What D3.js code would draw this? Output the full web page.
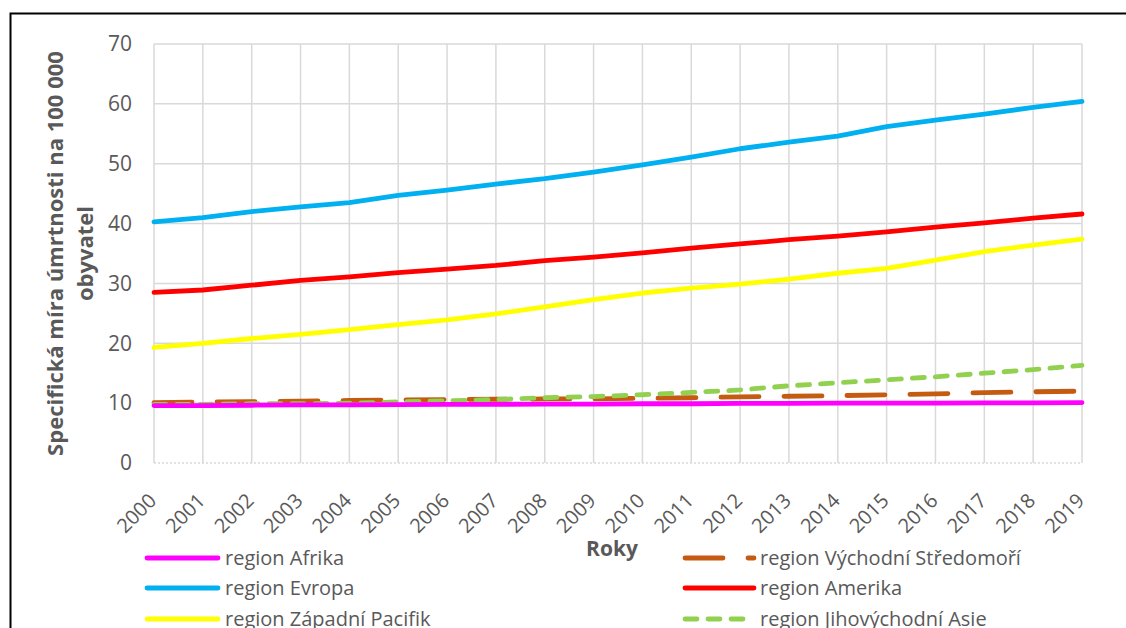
<!DOCTYPE html>
<html>
<head>
<meta charset="utf-8">
<script src="https://cdn.jsdelivr.net/npm/d3@7"></script>
<style>
  body { margin: 0; background: #fff; }
  svg text { font-family: 'Open Sans', sans-serif; fill: #595959; }
</style>
</head>
<body>
<svg id="chart" width="1126" height="628"></svg>
<script>
const years = d3.range(2000, 2020)

const afrika = [9.6, 9.6, 9.65, 9.7, 9.7, 9.75, 9.8, 9.8, 9.85, 9.85, 9.9, 9.9, 9.95, 9.95, 10.0, 10.0, 10.0, 10.05, 10.05, 10.1]
const evropa = [40.3, 41.0, 42.0, 42.8, 43.5, 44.7, 45.6, 46.6, 47.5, 48.6, 49.8, 51.1, 52.5, 53.6, 54.6, 56.2, 57.3, 58.3, 59.4, 60.4]
const zapPacifik = [19.3, 20.0, 20.8, 21.5, 22.3, 23.1, 23.9, 24.9, 26.1, 27.3, 28.4, 29.2, 29.9, 30.7, 31.7, 32.5, 33.9, 35.3, 36.4, 37.4]
const vychStredomori = [10.1, 10.2, 10.25, 10.35, 10.45, 10.55, 10.6, 10.65, 10.7, 10.7, 10.8, 10.9, 11.05, 11.15, 11.25, 11.4, 11.55, 11.75, 11.9, 12.0]
const amerika = [28.5, 28.9, 29.7, 30.5, 31.1, 31.8, 32.4, 33.0, 33.8, 34.4, 35.1, 35.9, 36.6, 37.3, 37.9, 38.6, 39.4, 40.1, 40.9, 41.6]
const jvAsie = [9.8, 9.8, 9.9, 9.9, 10.0, 10.2, 10.4, 10.6, 10.9, 11.1, 11.4, 11.8, 12.2, 12.9, 13.4, 13.9, 14.4, 15.0, 15.6, 16.3]

const yTicks = [0, 10, 20, 30, 40, 50, 60, 70]

const series = [
    { name: 'region Afrika', values: afrika, color: '#ff00ff', dash: null },
    { name: 'region Východní Středomoří', values: vychStredomori, color: '#c55a11', dash: '38,25' },
    { name: 'region Evropa', values: evropa, color: '#00b0f0', dash: null },
    { name: 'region Amerika', values: amerika, color: '#ff0000', dash: null },
    { name: 'region Západní Pacifik', values: zapPacifik, color: '#ffff00', dash: null },
    { name: 'region Jihovýchodní Asie', values: jvAsie, color: '#92d050', dash: '12,11' },
]
// drawing order (last on top)
const drawOrder = [1, 5, 0, 2, 3, 4]

const margin = { top: 44, right: 44, bottom: 165, left: 154 }
const width = 1126 - margin.left - margin.right
const height = 628 - margin.top - margin.bottom

const svg = d3.select('#chart')

// outer frame (runs past the picture edge)
svg.append('rect')
    .attr('x', 10.5).attr('y', 13.5)
    .attr('width', 1300).attr('height', 800)
    .attr('fill', 'none')
    .attr('stroke', '#000')
    .attr('stroke-width', 2)

const g = svg.append('g').attr('transform', `translate(${margin.left}, ${margin.top})`)

const x = d3.scalePoint().domain(years).range([0, width])
const y = d3.scaleLinear().domain([0, 70]).range([height, 0])

// grid
g.append('g').selectAll('line')
    .data(yTicks.filter(d => d > 0))
    .join('line')
    .attr('x1', 0).attr('x2', width)
    .attr('y1', d => y(d)).attr('y2', d => y(d))
    .attr('stroke', '#d9d9d9').attr('stroke-width', 1.5)

g.append('g').selectAll('line')
    .data(years)
    .join('line')
    .attr('x1', d => x(d)).attr('x2', d => x(d))
    .attr('y1', 0).attr('y2', height)
    .attr('stroke', '#d9d9d9').attr('stroke-width', 1.5)

// dotted x axis line
g.append('line')
    .attr('x1', 0).attr('x2', width)
    .attr('y1', height).attr('y2', height)
    .attr('stroke', '#d9d9d9').attr('stroke-width', 1.5)
    .attr('stroke-dasharray', '2,2')

// y axis labels
const yAxis = d3.axisLeft(y).tickValues(yTicks).tickSize(0).tickPadding(22)
g.append('g').call(yAxis)
    .call(a => a.select('.domain').remove())
    .selectAll('text')
    .style('font-size', '21px')
    .attr('fill', '#595959')

// x axis labels
const xAxis = d3.axisBottom(x).tickSize(0).tickPadding(0)
g.append('g').attr('transform', `translate(0, ${height})`).call(xAxis)
    .call(a => a.select('.domain').remove())
    .selectAll('text')
    .style('font-size', '20px')
    .attr('fill', '#595959')
    .attr('text-anchor', 'end')
    .attr('dy', 0)
    .attr('transform', 'translate(3, 39) rotate(-45)')

// lines
const line = d3.line()
    .x((d, i) => x(years[i]))
    .y(d => y(d))

drawOrder.forEach(i => {
    const s = series[i]
    g.append('path')
        .datum(s.values)
        .attr('d', line)
        .attr('fill', 'none')
        .attr('stroke', s.color)
        .attr('stroke-width', 4.8)
        .attr('stroke-linecap', 'round')
        .attr('stroke-linejoin', 'round')
        .attr('stroke-dasharray', s.dash)
})

// axis titles
svg.append('text')
    .attr('x', 612).attr('y', 556)
    .attr('text-anchor', 'middle')
    .style('font-size', '21px')
    .style('font-weight', 'bold')
    .text('Roky')

const yTitle = svg.append('text')
    .attr('transform', `translate(0, ${margin.top + height / 2}) rotate(-90)`)
    .attr('text-anchor', 'middle')
    .style('font-size', '22px')
    .style('font-weight', 'bold')
yTitle.append('tspan').attr('x', 0).attr('y', 63).text('Specifická míra úmrtnosti na 100 000')
yTitle.append('tspan').attr('x', 0).attr('y', 93).text('obyvatel')

// legend
const legendCols = [147, 685]
const legendRows = [558, 588, 619]
const legend = svg.append('g')
series.forEach((s, i) => {
    const lx = legendCols[i % 2]
    const ly = legendRows[Math.floor(i / 2)]
    const item = legend.append('g').attr('transform', `translate(${lx}, ${ly})`)
    item.append('line')
        .attr('x1', 0).attr('x2', i % 2 === 0 ? 71 : 69)
        .attr('y1', 0).attr('y2', 0)
        .attr('stroke', s.color)
        .attr('stroke-width', 4.8)
        .attr('stroke-linecap', 'round')
        .attr('stroke-dasharray', s.dash)
    item.append('text')
        .attr('x', i % 2 === 0 ? 78 : 75)
        .attr('y', 7)
        .style('font-size', '20px')
        .text(s.name)
})
</script>
</body>
</html>
